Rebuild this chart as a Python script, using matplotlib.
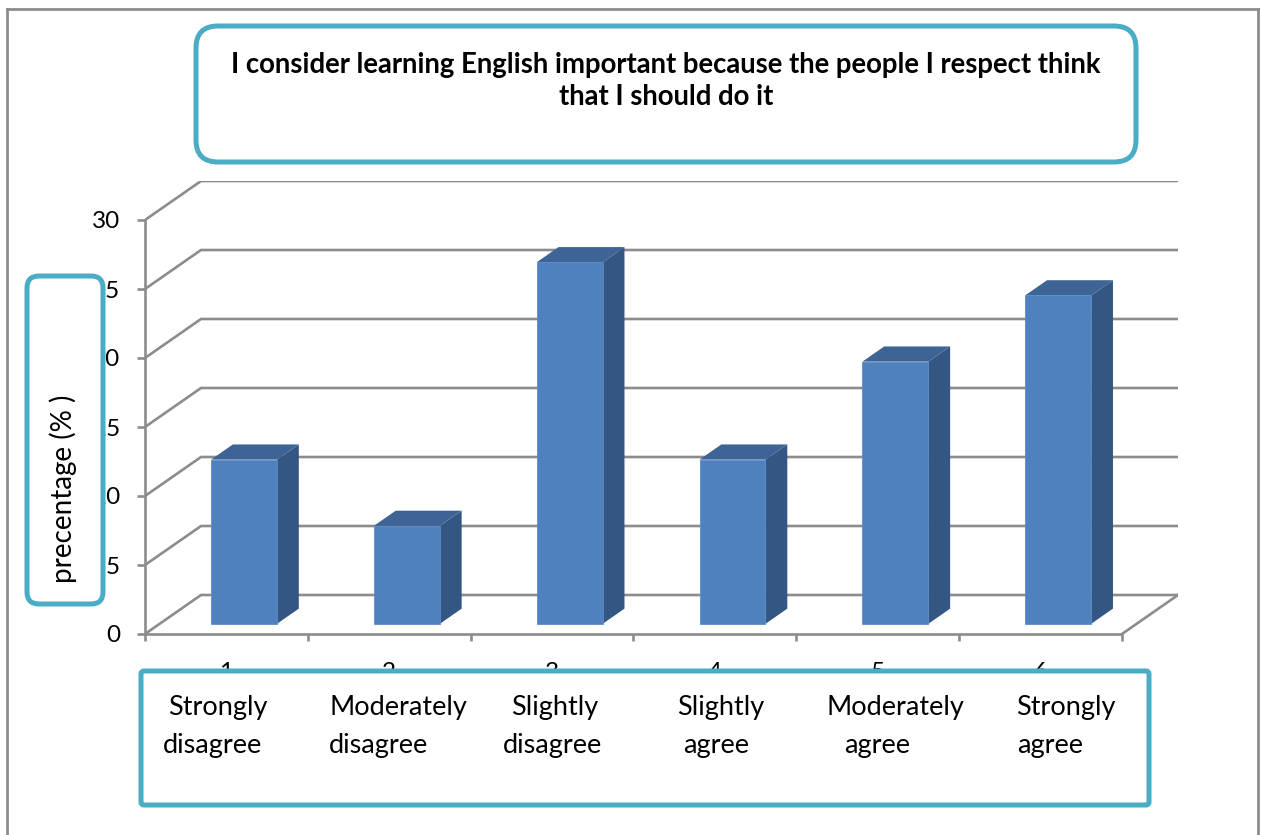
import matplotlib
matplotlib.use("Agg")
import matplotlib.pyplot as plt
from matplotlib.patches import Polygon, Rectangle, FancyBboxPatch
from matplotlib.lines import Line2D

# ---------------- data ----------------
categories = ["1", "2", "3", "4", "5", "6"]
category_names = [
    ("Strongly", "disagree"),
    ("Moderately", "disagree"),
    ("Slightly", "disagree"),
    ("Slightly", "agree"),
    ("Moderately", "agree"),
    ("Strongly", "agree"),
]
values = [11.9, 7.1, 26.2, 11.9, 19.0, 23.8]
y_ticks = [0, 5, 10, 15, 20, 25, 30]
title = "I consider learning English important because the people I respect think\nthat I should do it"
ylabel = "precentage (% )"

# ---------------- style ----------------
W_PX, H_PX = 1261, 835
GRAY = "#8c8c8c"
TEAL = "#4bacc6"
FRONT = "#4f81bd"
SIDE = "#335682"
TOP = "#3d6494"
FONT = ["Lato", "DejaVu Sans"]
LW = 1.9

DX = 56 / 162.8        # depth offset in category units
DY = 39 / 13.8         # depth offset in value units
D0, DD = 0.26, 0.39    # bar front depth, bar depth
BAR_OFF, BAR_W = 0.316, 0.405

fig = plt.figure(figsize=(W_PX / 100, H_PX / 100), dpi=100)
fig.patch.set_facecolor("white")


def fx(x):
    return x / W_PX


def fy(y):
    return 1 - y / H_PX


# axes placed so that data (0,0) is front-left floor corner
ax_left, ax_right, ax_bottom = 145, 1178, 634
n = len(categories)
xmax = n + DX
ymax = 30 + DY
px_per_unit_y = (634 - 220) / 30
ax_top = ax_bottom - ymax * px_per_unit_y
ax = fig.add_axes([fx(ax_left), fy(ax_bottom), (ax_right - ax_left) / W_PX,
                   (ax_bottom - ax_top) / H_PX])
ax.set_xlim(0, xmax)
ax.set_ylim(0, ymax)
ax.patch.set_alpha(0)
for s in ["top", "right"]:
    ax.spines[s].set_visible(False)
for s in ["left", "bottom"]:
    ax.spines[s].set_color(GRAY)
    ax.spines[s].set_linewidth(LW)
ax.spines["left"].set_bounds(0, 30)
ax.spines["bottom"].set_bounds(0, n)

ax.set_yticks(y_ticks)
ax.set_yticklabels([str(t) for t in y_ticks], fontfamily=FONT, fontsize=17.5)
ax.tick_params(axis="y", length=6, width=LW, color=GRAY, pad=12)
ax.set_xticks(range(n + 1))
ax.set_xticklabels([""] * (n + 1))
ax.set_xticks([i + 0.5 for i in range(n)], minor=True)
ax.set_xticklabels(categories, minor=True, fontfamily=FONT, fontsize=17.5)
ax.tick_params(axis="x", which="major", length=5, width=LW, color=GRAY)
ax.tick_params(axis="x", which="minor", length=0, pad=20)

# walls / gridlines
for v in y_ticks:
    ax.plot([0, DX, xmax], [v, v + DY, v + DY], color=GRAY, lw=LW,
            solid_capstyle="butt", zorder=1)
ax.plot([n, n + DX], [0, DY], color=GRAY, lw=LW, zorder=1)

# bars
for i, v in enumerate(values):
    x0 = i + BAR_OFF + D0 * DX
    y0 = D0 * DY
    ddx, ddy = DD * DX, DD * DY
    ax.add_patch(Polygon([(x0 + BAR_W, y0), (x0 + BAR_W + ddx, y0 + ddy),
                          (x0 + BAR_W + ddx, y0 + v + ddy), (x0 + BAR_W, y0 + v)],
                         closed=True, facecolor=SIDE, edgecolor="none", zorder=3))
    ax.add_patch(Polygon([(x0, y0 + v), (x0 + BAR_W, y0 + v),
                          (x0 + BAR_W + ddx, y0 + v + ddy), (x0 + ddx, y0 + v + ddy)],
                         closed=True, facecolor=TOP, edgecolor="none", zorder=3))
    ax.add_patch(Rectangle((x0, y0), BAR_W, v, facecolor=FRONT,
                           edgecolor="#5a8cc8", lw=0.6, zorder=4))

# outer frame
for xs, ys in [([7, 7], [9, 835]), ([7, 1258], [9, 9]), ([1258, 1258], [9, 835])]:
    fig.add_artist(Line2D([fx(x) for x in xs], [fy(y) for y in ys], color=GRAY,
                          lw=2.0, zorder=10))


def box(x0, y0, x1, y1, rad):
    p = FancyBboxPatch((fx(x0), fy(y1)), fx(x1) - fx(x0), fy(y0) - fy(y1),
                       boxstyle="round,pad=0,rounding_size=%f" % (rad / W_PX),
                       transform=fig.transFigure, facecolor="white",
                       edgecolor=TEAL, lw=3.6, zorder=5, mutation_aspect=W_PX / H_PX)
    fig.add_artist(p)


# title box
box(196, 26, 1136, 162, 22)
fig.text(fx(666), fy(81), title, ha="center", va="center", fontfamily=FONT,
         fontweight="bold", fontsize=19.8, linespacing=1.33, zorder=6)

# y-label box
box(27, 276, 103, 604, 12)
fig.text(fx(63), fy(489), ylabel, ha="center", va="center", rotation=90,
         fontfamily=FONT, fontsize=20, zorder=6)

# category box
box(141, 671, 1149, 805, 3)
line1_x = [218, 398, 555, 721, 895, 1066]
line2_x = [212, 378, 553, 716, 877, 1050]
for (a, b), x1, x2 in zip(category_names, line1_x, line2_x):
    fig.text(fx(x1), fy(708), a, ha="center", va="center", fontfamily=FONT,
             fontsize=19.5, zorder=6)
    fig.text(fx(x2), fy(746), b, ha="center", va="center", fontfamily=FONT,
             fontsize=19.5, zorder=6)

fig.savefig("out.png", dpi=100, facecolor="white")
